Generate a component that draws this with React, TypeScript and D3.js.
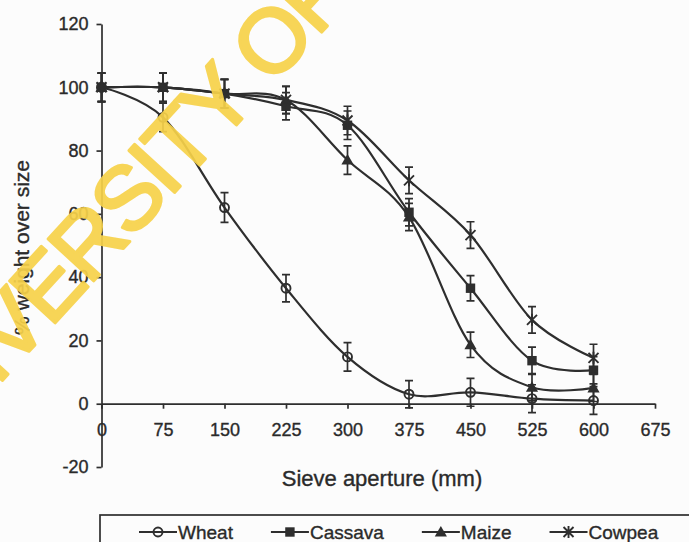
import { useEffect, useRef } from 'react';
import * as d3 from 'd3';

const W = 689;
const H = 542;

const COLORS = {
    bg: '#fcfcfc',
    ink: '#2e2e2e',
    text: '#2a2a2a',
    watermark: '#f7d24a',
};

// Sieve apertures (mm)
const apertures = [0, 75, 150, 225, 300, 375, 450, 525, 600];

// % weight over size
const wheat = [100, 90.5, 62, 36.5, 14.8, 3, 3.6, 1.6, 1];
const cassava = [100, 100, 98, 94, 88, 60.5, 36.5, 13.6, 10.6];
const maize = [100, 100, 98, 96, 77, 59, 18.6, 5.2, 5];
const cowpea = [100, 100, 98, 96, 89.5, 70.6, 53.3, 26.5, 14.5];

// error bar half-widths
const wheatErr = [4.5, 4.5, 4.7, 4.3, 4.5, 4.3, 4.4, 4.4, 4.4];
const cassavaErr = [4.5, 4.5, 4.5, 4.3, 4.5, 4.3, 4.0, 4.3, 4.3];
const maizeErr = [4.5, 4.5, 4.5, 4.3, 4.5, 4.3, 4.0, 4.3, 4.3];
const cowpeaErr = [4.5, 4.5, 4.5, 4.3, 4.5, 4.2, 4.2, 4.2, 4.3];

const seriesNames = ['Wheat', 'Cassava', 'Maize', 'Cowpea'];
const seriesValues = [wheat, cassava, maize, cowpea];
const seriesErrors = [wheatErr, cassavaErr, maizeErr, cowpeaErr];
const seriesMarkers = ['circle', 'square', 'triangle', 'star'];

const xTicks = [0, 75, 150, 225, 300, 375, 450, 525, 600, 675];
const yTicks = [-20, 0, 20, 40, 60, 80, 100, 120];

const FONT = '"Liberation Sans", Arial, sans-serif';

function styleText(sel, size) {
    sel.style('font-family', FONT).style('font-size', `${size}px`)
        .attr('fill', COLORS.text).attr('stroke', COLORS.text).attr('stroke-width', 0.35);
}

function drawMarker(g, kind, cx, cy) {
    if (kind === 'circle') {
        g.append('circle').attr('cx', cx).attr('cy', cy).attr('r', 4.5)
            .attr('fill', 'none').attr('stroke', COLORS.ink).attr('stroke-width', 1.9);
    } else if (kind === 'square') {
        g.append('rect').attr('x', cx - 4.7).attr('y', cy - 4.7).attr('width', 9.4).attr('height', 9.4)
            .attr('fill', COLORS.ink);
    } else if (kind === 'triangle') {
        g.append('path').attr('d', d3.symbol(d3.symbolTriangle, 64)())
            .attr('transform', `translate(${cx},${cy + 1})`).attr('fill', COLORS.ink);
    } else {
        g.append('path')
            .attr('d', 'M-5,-5L5,5M-5,5L5,-5M0,-6L0,6')
            .attr('transform', `translate(${cx},${cy})`)
            .attr('stroke', COLORS.ink).attr('stroke-width', 1.9).attr('fill', 'none');
    }
}

export default function App() {
    const svgRef = useRef(null);

    useEffect(() => {
        document.body.style.margin = '0';
        const svg = d3.select(svgRef.current);
        svg.selectAll('*').remove();

        const margin = { top: 24, right: 34, bottom: 75, left: 101.5 };
        const x = d3.scaleLinear().domain([0, 675]).range([margin.left, W - margin.right]);
        const y = d3.scaleLinear().domain([-20, 120]).range([H - margin.bottom, margin.top]);

        svg.append('rect').attr('width', W).attr('height', H).attr('fill', COLORS.bg);

        // Y axis
        const yAxis = svg.append('g').attr('transform', `translate(${x(0)},0)`)
            .call(d3.axisLeft(y).tickValues(yTicks).tickFormat(d => String(d))
                .tickSize(5).tickPadding(8).tickSizeOuter(0));
        yAxis.select('.domain').attr('stroke', COLORS.ink).attr('stroke-width', 1.7);
        yAxis.selectAll('line').attr('stroke', COLORS.ink).attr('stroke-width', 1.7);
        styleText(yAxis.selectAll('text'), 18);

        // X axis drawn along y = 0
        const xAxis = svg.append('g').attr('transform', `translate(0,${y(0)})`)
            .call(d3.axisBottom(x).tickValues(xTicks).tickFormat(d => String(d))
                .tickSize(5).tickPadding(15).tickSizeOuter(0));
        xAxis.select('.domain').attr('stroke', COLORS.ink).attr('stroke-width', 1.7);
        xAxis.selectAll('line').attr('stroke', COLORS.ink).attr('stroke-width', 1.7);
        styleText(xAxis.selectAll('text'), 18);

        // Axis titles
        styleText(svg.append('text')
            .attr('x', 382).attr('y', 486)
            .attr('text-anchor', 'middle')
            .text('Sieve aperture (mm)'), 22);

        styleText(svg.append('text')
            .attr('transform', `translate(29,${(y(-20) + y(120)) / 2 + 2}) rotate(-90)`)
            .attr('text-anchor', 'middle')
            .text('% weight over size'), 21);

        // Series
        const line = d3.line()
            .x(d => x(d[0]))
            .y(d => y(d[1]))
            .curve(d3.curveCatmullRom.alpha(0));

        seriesValues.forEach((vals, si) => {
            const pts = apertures.map((a, i) => [a, vals[i]]);
            svg.append('path')
                .datum(pts)
                .attr('d', line)
                .attr('fill', 'none')
                .attr('stroke', COLORS.ink)
                .attr('stroke-width', 2.2);

            const g = svg.append('g');
            const errs = seriesErrors[si];
            pts.forEach(([a, v], i) => {
                const cx = x(a);
                const y0 = y(v - errs[i]);
                const y1 = y(v + errs[i]);
                g.append('path')
                    .attr('d', `M${cx},${y0}V${y1}M${cx - 4},${y0}H${cx + 4}M${cx - 4},${y1}H${cx + 4}`)
                    .attr('stroke', COLORS.ink).attr('stroke-width', 1.7).attr('fill', 'none');
                drawMarker(g, seriesMarkers[si], cx, y(v));
            });
        });

        // Legend
        const legendTop = 515;
        svg.append('rect')
            .attr('x', 100).attr('y', legendTop).attr('width', W).attr('height', 60)
            .attr('fill', 'none').attr('stroke', COLORS.ink).attr('stroke-width', 1.7);

        let lx = 139;
        const ly = 532;
        seriesNames.forEach((name, si) => {
            const g = svg.append('g');
            g.append('line').attr('x1', lx).attr('x2', lx + 38).attr('y1', ly).attr('y2', ly)
                .attr('stroke', COLORS.ink).attr('stroke-width', 2.2);
            drawMarker(g, seriesMarkers[si], lx + 19, ly);
            const t = g.append('text')
                .attr('x', lx + 39).attr('y', ly + 7)
                .text(name);
            styleText(t, 19);
            const tw = t.node().getComputedTextLength();
            lx += 38 + tw + 39;
        });

        // Watermark
        svg.append('text')
            .attr('transform', 'translate(-87,478) rotate(-47.5)')
            .style('font-family', FONT).style('font-size', '90px')
            .style('letter-spacing', '-3px')
            .attr('fill', COLORS.watermark).attr('stroke', COLORS.watermark)
            .attr('stroke-width', 3).attr('stroke-linejoin', 'round')
            .attr('opacity', 0.92)
            .text('UNIVERSITY OF');
    }, []);

    return <svg ref={svgRef} width={W} height={H} style={{ display: 'block' }} />;
}
